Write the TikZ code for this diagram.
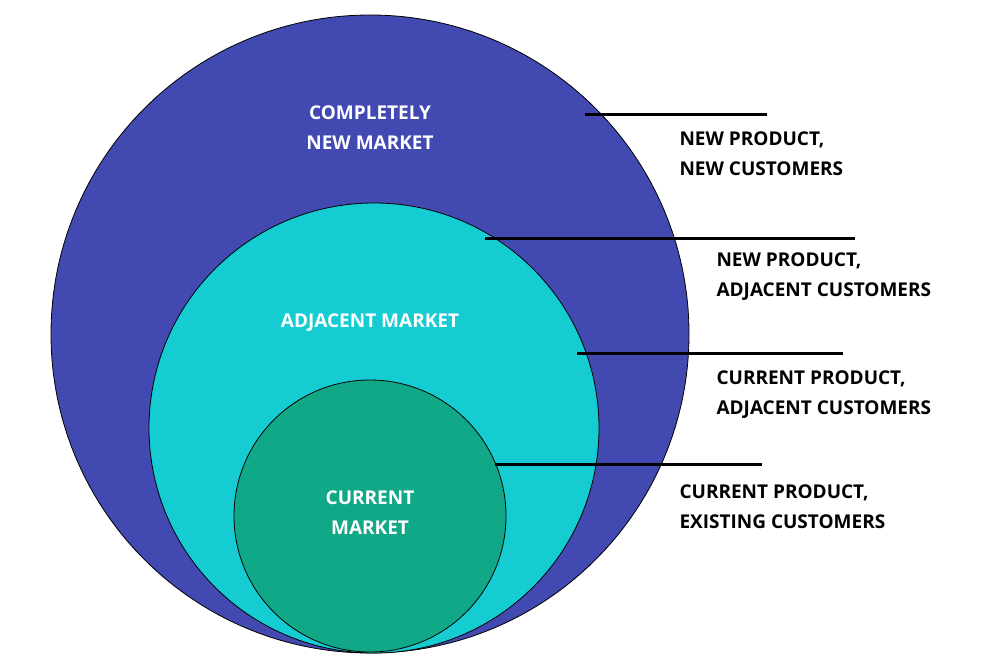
\documentclass[tikz,border=0pt]{standalone}
\usepackage{fontspec}
\setmainfont{Open Sans}
\definecolor{cBlue}{HTML}{4249B1}
\definecolor{cCyan}{HTML}{15CCD3}
\definecolor{cGreen}{HTML}{10A887}
\begin{document}
\begin{tikzpicture}[x=1pt,y=-1pt,
  circ/.style={draw=black,line width=0.8pt},
  lead/.style={draw=black,line width=3pt},
  wlab/.style={text=white,font=\fontsize{19}{30}\selectfont\bfseries,align=center},
  rlab/.style={text=black,font=\fontsize{19}{30}\selectfont\bfseries,align=left,anchor=west}]
\useasboundingbox (0,0) rectangle (985,666);
\fill[white] (0,0) rectangle (985,666);
\filldraw[circ,fill=cBlue] (370,334) circle (319);
\filldraw[circ,fill=cCyan] (374,428) circle (225);
\filldraw[circ,fill=cGreen] (370,516) circle (136);
\node[wlab] (l1) at (370,128) {COMPLETELY\\NEW MARKET};
\node[wlab] (l2) at (370,323) {ADJACENT MARKET};
\node[wlab] (l3) at (370,513) {CURRENT\\MARKET};
\coordinate (a1) at (585,115); \coordinate (b1) at (767,115);
\coordinate (a2) at (485,238); \coordinate (b2) at (855,238);
\coordinate (a3) at (577,353); \coordinate (b3) at (843,353);
\coordinate (a4) at (495,464); \coordinate (b4) at (762,464);
\draw[lead] (a1) -- (b1);
\draw[lead] (a2) -- (b2);
\draw[lead] (a3) -- (b3);
\draw[lead] (a4) -- (b4);
\node[rlab] (r1) at (676,154) {NEW PRODUCT,\\NEW CUSTOMERS};
\node[rlab] (r2) at (713,277) {NEW PRODUCT,\\ADJACENT CUSTOMERS};
\node[rlab] (r3) at (713,395) {CURRENT PRODUCT,\\ADJACENT CUSTOMERS};
\node[rlab] (r4) at (676,507) {CURRENT PRODUCT,\\EXISTING CUSTOMERS};
\end{tikzpicture}
\end{document}
